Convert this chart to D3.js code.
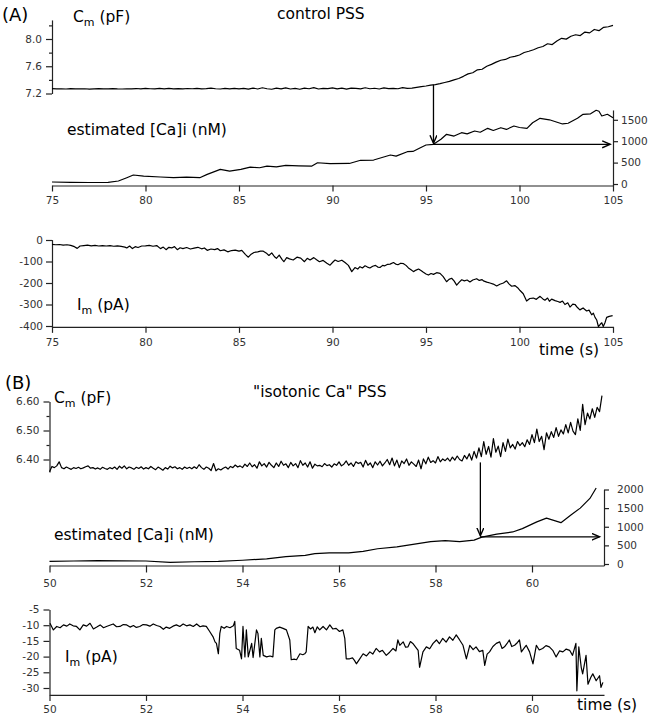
<!DOCTYPE html>
<html>
<head>
<meta charset="utf-8">
<script src="https://cdn.jsdelivr.net/npm/d3@7"></script>
<style>
  body { margin: 0; background: #fff; }
  svg { display: block; background: #fff; font-family: 'DejaVu Sans', Verdana, sans-serif; }
  .axis path, .axis line { stroke: #222; stroke-width: 1.2; }
  .axis text { font-family: 'DejaVu Sans', Verdana, sans-serif; font-size: 10.5px; fill: #333; }
  .trace { fill: none; stroke: #000; stroke-width: 1.2; stroke-linejoin: round; }
  .arrow { fill: none; stroke: #000; stroke-width: 1.3; }
  .label { font-size: 15.5px; fill: #000; }
  .panel { font-size: 18px; fill: #000; }
</style>
</head>
<body>
<svg id="chart" width="657" height="719"></svg>
<script>
// ---- panel A : control PSS ----
const TIME_TICKS_A = [75, 80, 85, 90, 95, 100, 105]
const CM_TICKS_A = [7.2, 7.6, 8.0]
const CM_MINOR_A = [7.4, 7.8, 8.2]
const CA_TICKS_A = [0, 500, 1000, 1500]
const IM_TICKS_A = [0, -100, -200, -300, -400]

// Cm sampled every 0.25 s from 75 s
const CM_A_START = 75
const CM_A_STEP = 0.25
const cmA = [
  7.272, 7.268, 7.270, 7.266, 7.271, 7.269, 7.267, 7.270, 7.265, 7.268,
  7.271, 7.267, 7.269, 7.272, 7.268, 7.266, 7.270, 7.268, 7.273, 7.267,
  7.275, 7.270, 7.268, 7.274, 7.269, 7.276, 7.268, 7.271, 7.267, 7.273,
  7.270, 7.275, 7.268, 7.272, 7.278, 7.270, 7.266, 7.274, 7.269, 7.276,
  7.268, 7.275, 7.265, 7.280, 7.266, 7.284, 7.270, 7.262, 7.279, 7.268,
  7.283, 7.266, 7.275, 7.262, 7.280, 7.270, 7.286, 7.266, 7.276, 7.272,
  7.282, 7.268, 7.278, 7.265, 7.280, 7.274, 7.268, 7.284, 7.270, 7.277,
  7.266, 7.282, 7.272, 7.276, 7.270, 7.285, 7.276, 7.280, 7.290, 7.300,
  7.310, 7.322, 7.330, 7.345, 7.362, 7.378, 7.400, 7.420, 7.452, 7.488,
  7.505, 7.548, 7.556, 7.600, 7.628, 7.660, 7.688, 7.700, 7.732, 7.745,
  7.765, 7.802, 7.820, 7.842, 7.872, 7.890, 7.930, 7.918, 7.972, 8.010,
  7.998, 8.040, 8.062, 8.050, 8.102, 8.090, 8.140, 8.122, 8.172, 8.180,
  8.200
]

// estimated [Ca]i, [time s, nM]
const caA = [
  [75, 47], [76, 40], [77, 35], [78, 38], [78.55, 70], [79, 147], [79.35, 210], [79.9, 186],
  [80.8, 163], [81.5, 148], [82.2, 160], [82.9, 147], [83.3, 225], [84.0, 341], [84.5, 302],
  [85.1, 341], [85.6, 395], [86.1, 380], [86.5, 419], [87.0, 400], [87.5, 434], [88.2, 425],
  [88.9, 419], [89.2, 496], [89.87, 474], [90.9, 480], [91.5, 554], [92.2, 560], [93.1, 678],
  [93.4, 650], [94.0, 755], [94.3, 760], [94.7, 848], [95.0, 911], [95.4, 928], [95.8, 1044],
  [96.1, 1161], [96.5, 1120], [96.9, 1199], [97.2, 1170], [97.6, 1238], [97.9, 1210],
  [98.3, 1301], [98.6, 1250], [99.0, 1315], [99.3, 1275], [99.7, 1355], [100.0, 1320],
  [100.4, 1300], [100.7, 1432], [101.1, 1535], [101.6, 1500], [102.3, 1403], [102.6, 1420],
  [103.1, 1535], [103.4, 1629], [103.8, 1640], [104.1, 1722], [104.25, 1700], [104.4, 1589],
  [104.7, 1629], [105, 1549]
]

// membrane current, [time s, pA]
const imA = [
  [75.0, -20], [75.2, -22], [75.4, -21], [75.6, -24], [75.8, -22], [76.0, -25], [76.2, -31],
  [76.35, -39], [76.5, -28], [76.7, -26], [76.9, -24], [77.1, -27], [77.3, -25], [77.5, -28],
  [77.7, -26], [77.9, -28], [78.1, -26], [78.3, -29], [78.5, -27], [78.7, -30], [78.9, -33],
  [79.0, -37], [79.15, -28], [79.3, -40], [79.45, -31], [79.6, -35], [79.8, -28], [80.0, -27],
  [80.2, -25], [80.4, -29], [80.6, -26], [80.8, -40], [80.95, -33], [81.1, -45], [81.25, -34],
  [81.4, -37], [81.55, -31], [81.7, -45], [81.85, -36], [82.0, -40], [82.2, -35], [82.4, -42],
  [82.6, -38], [82.8, -34], [83.0, -41], [83.15, -37], [83.3, -48], [83.5, -42], [83.7, -45],
  [83.85, -40], [84.0, -50], [84.2, -46], [84.4, -55], [84.6, -49], [84.8, -47], [85.0, -52],
  [85.15, -48], [85.35, -68], [85.5, -80], [85.65, -66], [85.8, -58], [86.0, -55], [86.15, -52],
  [86.3, -52], [86.45, -60], [86.6, -72], [86.75, -60], [86.9, -78], [87.0, -85], [87.15, -70],
  [87.3, -90], [87.4, -101], [87.55, -82], [87.7, -88], [87.9, -93], [88.1, -80], [88.3, -84],
  [88.5, -101], [88.65, -85], [88.8, -93], [89.0, -82], [89.15, -92], [89.3, -101], [89.5, -95],
  [89.7, -108], [89.87, -117], [90.05, -100], [90.14, -93], [90.3, -100], [90.5, -94],
  [90.67, -105], [90.85, -118], [91.03, -147], [91.2, -128], [91.35, -135], [91.47, -124],
  [91.6, -130], [91.74, -120], [91.87, -126], [92.0, -130], [92.15, -122], [92.3, -118],
  [92.42, -126], [92.54, -128], [92.68, -118], [92.8, -120], [92.95, -113], [93.08, -112],
  [93.26, -105], [93.38, -112], [93.5, -115], [93.65, -108], [93.8, -110], [93.93, -118],
  [94.06, -130], [94.2, -138], [94.33, -147], [94.47, -140], [94.6, -135], [94.73, -142],
  [94.86, -150], [95.0, -158], [95.13, -163], [95.27, -156], [95.4, -160], [95.57, -152],
  [95.75, -155], [95.92, -170], [96.1, -194], [96.23, -183], [96.37, -178], [96.5, -190],
  [96.64, -210], [96.78, -196], [96.91, -185], [97.05, -190], [97.2, -186], [97.35, -195],
  [97.5, -186], [97.71, -180], [97.85, -188], [98.0, -184], [98.07, -190], [98.25, -196],
  [98.42, -200], [98.6, -205], [98.78, -214], [98.95, -206], [99.14, -200], [99.31, -190],
  [99.45, -205], [99.58, -215], [99.75, -212], [99.9, -222], [100.03, -235], [100.2, -250],
  [100.38, -284], [100.55, -272], [100.74, -270], [100.9, -276], [101.1, -262], [101.25, -274],
  [101.36, -280], [101.5, -270], [101.6, -285], [101.72, -275], [101.9, -282], [102.05, -286],
  [102.17, -290], [102.3, -284], [102.43, -300], [102.58, -292], [102.7, -312], [102.85, -298],
  [102.97, -300], [103.1, -314], [103.23, -325], [103.4, -316], [103.59, -330], [103.72, -326],
  [103.86, -348], [103.95, -340], [104.04, -360], [104.13, -372], [104.22, -403], [104.32, -392],
  [104.4, -385], [104.48, -402], [104.57, -385], [104.66, -360], [104.8, -355], [104.98, -352]
]

// arrow: time, Cm start (pF), [Ca]i level (nM), end time
const arrowA = { t: 95.4, cm: 7.33, ca: 928, tEnd: 104.85 }

// ---- panel B : "isotonic Ca" PSS ----
const TIME_TICKS_B = [50, 52, 54, 56, 58, 60]
const CM_TICKS_B = [6.4, 6.5, 6.6]
const CM_MINOR_B = [6.45, 6.55]
const CA_TICKS_B = [0, 500, 1000, 1500, 2000]
const IM_TICKS_B = [-5, -10, -15, -20, -25, -30]

// Cm sampled every 0.05 s from 50 s
const CM_B_START = 50
const CM_B_STEP = 0.05
const cmB = [
  6.358, 6.376, 6.372, 6.378, 6.392, 6.372, 6.368, 6.374, 6.370, 6.366, 6.372, 6.369, 6.373, 6.368, 6.371, 6.375, 6.378, 6.370, 6.372, 6.367,
  6.371, 6.366, 6.373, 6.369, 6.366, 6.372, 6.368, 6.374, 6.366, 6.377, 6.370, 6.378, 6.368, 6.374, 6.371, 6.366, 6.373, 6.369, 6.375, 6.367,
  6.372, 6.368, 6.376, 6.370, 6.365, 6.374, 6.369, 6.363, 6.372, 6.367, 6.377, 6.371, 6.375, 6.368, 6.372, 6.366, 6.374, 6.369, 6.373, 6.368,
  6.375, 6.369, 6.382, 6.372, 6.366, 6.374, 6.370, 6.362, 6.386, 6.361, 6.368, 6.364, 6.370, 6.374, 6.367, 6.376, 6.372, 6.381, 6.374, 6.378,
  6.372, 6.384, 6.376, 6.388, 6.375, 6.382, 6.370, 6.392, 6.378, 6.386, 6.374, 6.390, 6.380, 6.372, 6.388, 6.376, 6.394, 6.380, 6.385, 6.372,
  6.390, 6.378, 6.386, 6.372, 6.396, 6.380, 6.388, 6.374, 6.392, 6.370, 6.384, 6.378, 6.380, 6.375, 6.386, 6.379, 6.382, 6.374, 6.385, 6.380,
  6.392, 6.378, 6.384, 6.395, 6.380, 6.388, 6.376, 6.392, 6.386, 6.390, 6.374, 6.397, 6.380, 6.388, 6.372, 6.392, 6.381, 6.394, 6.378, 6.388,
  6.400, 6.382, 6.405, 6.378, 6.398, 6.372, 6.395, 6.386, 6.402, 6.380, 6.392, 6.384, 6.376, 6.398, 6.368, 6.402, 6.385, 6.408, 6.390, 6.396,
  6.388, 6.410, 6.392, 6.402, 6.396, 6.405, 6.394, 6.408, 6.398, 6.412, 6.400, 6.395, 6.414, 6.402, 6.420, 6.398, 6.428, 6.405, 6.440, 6.410,
  6.462, 6.418, 6.445, 6.408, 6.472, 6.425, 6.446, 6.410, 6.458, 6.428, 6.470, 6.440, 6.452, 6.436, 6.462, 6.448, 6.458, 6.444, 6.468, 6.452,
  6.486, 6.458, 6.505, 6.462, 6.480, 6.434, 6.492, 6.470, 6.496, 6.476, 6.510, 6.480, 6.502, 6.488, 6.520, 6.492, 6.528, 6.498, 6.486, 6.540,
  6.500, 6.590, 6.520, 6.560, 6.540, 6.575, 6.545, 6.580, 6.565, 6.620
]

const caB = [
  [50.0, 70], [50.5, 80], [51.0, 90], [51.5, 85], [52.0, 80], [52.5, 45], [53.0, 60], [53.5, 70],
  [54.0, 100], [54.5, 140], [54.9, 200], [55.3, 230], [55.5, 280], [55.8, 300], [56.2, 300],
  [56.5, 340], [56.8, 410], [57.2, 460], [57.5, 520], [57.9, 600], [58.2, 625], [58.5, 600],
  [58.8, 640], [58.96, 720], [59.27, 800], [59.6, 860], [59.8, 950], [60.1, 1130], [60.3, 1230],
  [60.6, 1110], [60.8, 1310], [61.0, 1500], [61.2, 1760], [61.33, 2040]
]

const imB = [
  [50.01, -9.4], [50.08, -11.5], [50.15, -10.4], [50.22, -10.8], [50.29, -9.9], [50.36, -10.3],
  [50.42, -9.6], [50.49, -10.2], [50.56, -10.4], [50.63, -11.5], [50.7, -9.9], [50.77, -10.3],
  [50.84, -9.4], [50.91, -11.2], [50.98, -10.6], [51.05, -9.9], [51.12, -10.8], [51.18, -10.4],
  [51.25, -10.0], [51.32, -9.6], [51.39, -10.5], [51.46, -10.4], [51.53, -9.8], [51.6, -9.9],
  [51.67, -10.6], [51.74, -10.1], [51.8, -10.7], [51.87, -10.4], [51.94, -9.8], [52.01, -9.9],
  [52.08, -10.3], [52.15, -9.6], [52.22, -10.1], [52.29, -10.4], [52.36, -11.3], [52.42, -10.6],
  [52.49, -11.0], [52.56, -10.3], [52.63, -9.9], [52.7, -10.4], [52.77, -9.6], [52.84, -10.2],
  [52.91, -9.9], [52.98, -10.4], [53.05, -9.6], [53.12, -10.5], [53.18, -10.2], [53.25, -10.4],
  [53.32, -12.0], [53.39, -13.7], [53.43, -15.3], [53.46, -15.8], [53.5, -19.1], [53.53, -12.6],
  [53.56, -10.4], [53.62, -11.0], [53.67, -10.4], [53.74, -10.8], [53.81, -10.2], [53.84, -8.8],
  [53.87, -17.4], [53.94, -18.0], [53.98, -20.7], [54.01, -10.4], [54.05, -20.1], [54.08, -11.5],
  [54.12, -20.1], [54.19, -15.8], [54.22, -20.3], [54.29, -11.5], [54.32, -12.6], [54.36, -20.1],
  [54.39, -14.2], [54.43, -19.6], [54.5, -20.1], [54.57, -19.8], [54.63, -20.1], [54.67, -11.5],
  [54.7, -11.0], [54.77, -10.6], [54.84, -11.0], [54.91, -11.5], [54.98, -14.7], [55.01, -21.0],
  [55.07, -20.8], [55.12, -21.0], [55.19, -19.1], [55.25, -19.4], [55.29, -19.1], [55.32, -18.5],
  [55.36, -10.4], [55.41, -11.2], [55.46, -10.6], [55.5, -12.4], [55.55, -10.5], [55.6, -11.5],
  [55.67, -10.4], [55.74, -11.5], [55.81, -9.9], [55.87, -11.2], [55.94, -11.0], [56.01, -12.0],
  [56.08, -11.5], [56.12, -14.2], [56.15, -20.7], [56.22, -20.7], [56.28, -20.4], [56.32, -21.2],
  [56.36, -22.3], [56.43, -20.7], [56.5, -19.1], [56.57, -19.8], [56.64, -18.5], [56.7, -19.2],
  [56.77, -17.4], [56.84, -18.5], [56.9, -18.0], [56.98, -19.6], [57.05, -18.6], [57.12, -17.4],
  [57.18, -18.2], [57.22, -14.7], [57.26, -16.4], [57.33, -15.3], [57.38, -17.0], [57.43, -16.9],
  [57.48, -15.2], [57.53, -15.8], [57.6, -17.2], [57.64, -18.0], [57.67, -23.4], [57.74, -18.5],
  [57.81, -16.9], [57.88, -17.5], [57.95, -15.8], [58.02, -14.7], [58.08, -15.9], [58.15, -14.2],
  [58.22, -15.4], [58.29, -13.7], [58.36, -14.8], [58.43, -13.1], [58.5, -14.7], [58.57, -16.4],
  [58.64, -20.7], [58.71, -16.4], [58.78, -17.8], [58.84, -16.9], [58.91, -18.4], [58.98, -18.0],
  [59.02, -22.8], [59.07, -19.2], [59.12, -18.5], [59.19, -16.8], [59.26, -15.8], [59.33, -15.3],
  [59.38, -17.4], [59.43, -16.9], [59.48, -15.9], [59.53, -14.7], [59.58, -16.8], [59.64, -16.4],
  [59.7, -15.5], [59.74, -14.7], [59.78, -18.5], [59.84, -17.2], [59.88, -16.4], [59.95, -18.5],
  [60.02, -22.3], [60.09, -16.4], [60.15, -17.9], [60.22, -17.4], [60.29, -16.5], [60.36, -16.9],
  [60.43, -18.0], [60.5, -20.1], [60.57, -18.2], [60.64, -18.5], [60.71, -17.6], [60.78, -18.0],
  [60.84, -19.6], [60.91, -15.8], [60.93, -30.9], [60.97, -16.9], [61.02, -23.4], [61.05, -25.5],
  [61.12, -19.6], [61.16, -28.8], [61.22, -26.6], [61.26, -25.5], [61.33, -27.7], [61.4, -26.1],
  [61.43, -29.8], [61.47, -28.2]
]

const arrowB = { t: 58.93, cm: 6.39, ca: 730, tEnd: 61.4 }

// ---- drawing ----
const svg = d3.select('#chart')

svg.append('defs').append('marker')
  .attr('id', 'head')
  .attr('markerUnits', 'userSpaceOnUse')
  .attr('markerWidth', 10).attr('markerHeight', 10)
  .attr('refX', 8).attr('refY', 4)
  .attr('orient', 'auto')
  .append('path')
  .attr('d', 'M0,0.5 L8,4 L0,7.5')
  .attr('fill', 'none').attr('stroke', '#000').attr('stroke-width', 1.4)

const xA = d3.scaleLinear([75, 105], [52, 613])
const yCmA = d3.scaleLinear([7.2, 8.0], [93.5, 39])
const yCaA = d3.scaleLinear([0, 1500], [184, 119.8])
const yImA = d3.scaleLinear([-400, 0], [326, 240])

const xB = d3.scaleLinear([50, 60], [49.5, 532])
const yCmB = d3.scaleLinear([6.4, 6.6], [459.5, 401.5])
const yCaB = d3.scaleLinear([0, 2000], [564, 489.5])
const yImB = d3.scaleLinear([-30, -5], [688, 609.5])

// scale stretched over a wider domain so the axis line runs past the last tick
function stretch(scale, lo, hi) {
  return scale.copy().domain([lo, hi]).range([scale(lo), scale(hi)])
}

function drawAxis(gen, { x = 0, y = 0, values, format, size = 6, pad = 3, minor }) {
  const g = svg.append('g')
    .attr('class', 'axis')
    .attr('transform', `translate(${x},${y})`)
    .call(gen.tickValues(values).tickFormat(format).tickSize(size).tickSizeOuter(0).tickPadding(pad))
  if (minor) {
    svg.append('g')
      .attr('class', 'axis')
      .attr('transform', `translate(${x},${y})`)
      .call(gen.tickValues(minor).tickFormat('').tickSize(3))
      .select('.domain').remove()
  }
  return g
}

function trace(data, x, y) {
  svg.append('path')
    .datum(data)
    .attr('class', 'trace')
    .attr('d', d3.line().x(d => x(d[0])).y(d => y(d[1])))
}

const sampled = (start, step, values) => values.map((v, i) => [start + i * step, v])

function label(x, y, main, sub, rest, cls = 'label') {
  const t = svg.append('text').attr('class', cls).attr('x', x).attr('y', y)
  t.append('tspan').text(main)
  if (sub) {
    t.append('tspan').attr('font-size', '11px').attr('dy', 4).text(sub)
    t.append('tspan').attr('dy', -4).text(rest)
  }
}

function arrow(a, x, yTop, yBottom) {
  svg.append('line').attr('class', 'arrow')
    .attr('x1', x(a.t)).attr('y1', yTop(a.cm))
    .attr('x2', x(a.t)).attr('y2', yBottom(a.ca) - 1)
    .attr('marker-end', 'url(#head)')
  svg.append('line').attr('class', 'arrow')
    .attr('x1', x(a.t)).attr('y1', yBottom(a.ca))
    .attr('x2', x(a.tEnd)).attr('y2', yBottom(a.ca))
    .attr('marker-end', 'url(#head)')
}

// plain hyphen minus like the original figure
const f1 = d => d.toFixed(1)
const f2 = d => d.toFixed(2)
const fi = d => String(d)

// panel A axes
drawAxis(d3.axisLeft(stretch(yCmA, 7.2, 8.28)), { x: 52, values: CM_TICKS_A, format: f1, pad: 4, minor: CM_MINOR_A })
drawAxis(d3.axisRight(stretch(yCaA, -35, 1730)), { x: 613, values: CA_TICKS_A, format: fi, size: 5, pad: 3 })
drawAxis(d3.axisBottom(xA), { y: yCaA(-35), values: TIME_TICKS_A, format: fi, size: 6, pad: 5 })
drawAxis(d3.axisLeft(stretch(yImA, -404, 2)), { x: 52, values: IM_TICKS_A, format: fi })
drawAxis(d3.axisBottom(xA), { y: yImA(-404), values: TIME_TICKS_A, format: fi, size: 6, pad: 6 })

trace(sampled(CM_A_START, CM_A_STEP, cmA), xA, yCmA)
trace(caA, xA, yCaA)
trace(imA, xA, yImA)
arrow(arrowA, xA, yCmA, yCaA)

// panel B axes
const tEndB = xB.invert(604)
drawAxis(d3.axisLeft(stretch(yCmB, 6.357, 6.6)), { x: 49.5, values: CM_TICKS_B, format: f2, pad: 4, minor: CM_MINOR_B })
drawAxis(d3.axisRight(stretch(yCaB, -40, 2000)), { x: xB(tEndB), values: CA_TICKS_B, format: fi, size: 5, pad: 8 })
drawAxis(d3.axisBottom(stretch(xB, 50, tEndB)), { y: yCaB(-40), values: TIME_TICKS_B, format: fi, size: 7, pad: 7 })
drawAxis(d3.axisLeft(stretch(yImB, -32.2, -5)), { x: 49.5, values: IM_TICKS_B, format: fi, pad: 4 })
drawAxis(d3.axisBottom(stretch(xB, 50, tEndB)), { y: yImB(-32.2), values: TIME_TICKS_B, format: fi, size: 6, pad: 5 })

trace(sampled(CM_B_START, CM_B_STEP, cmB), xB, yCmB)
trace(caB, xB, yCaB)
trace(imB, xB, yImB)
arrow(arrowB, xB, yCmB, yCaB)

// texts
label(2, 21, '(A)', null, null, 'panel')
label(73, 22, 'C', 'm', ' (pF)')
label(277, 19, 'control PSS')
label(67, 135, 'estimated [Ca]i (nM)')
label(77, 310, 'I', 'm', ' (pA)')
label(539, 355, 'time (s)')

label(5, 389, '(B)', null, null, 'panel')
label(54, 403, 'C', 'm', ' (pF)')
label(253, 397, '"isotonic Ca" PSS')
label(54, 540, 'estimated [Ca]i (nM)')
label(65, 662, 'I', 'm', ' (pA)')
label(577, 710, 'time (s)')
</script>
</body>
</html>
